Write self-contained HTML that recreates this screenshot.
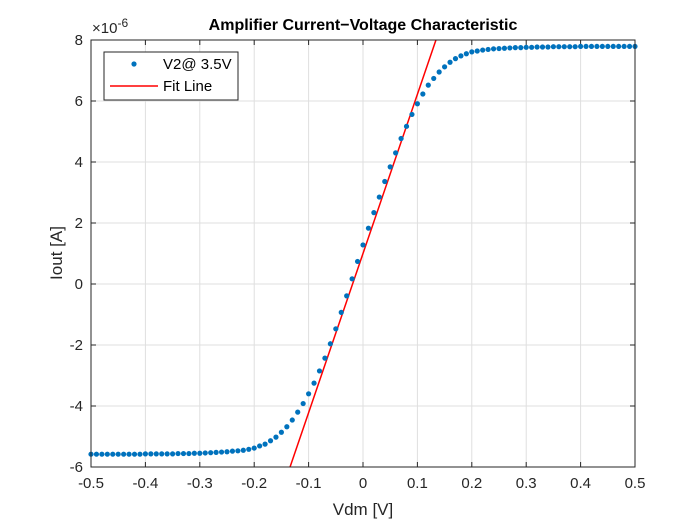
<!DOCTYPE html>
<html><head><meta charset="utf-8"><style>
html,body{margin:0;padding:0;background:#fff;width:700px;height:525px;overflow:hidden;position:relative;}
svg{display:block;font-family:"Liberation Sans",sans-serif;position:absolute;left:0;top:0;}
</style></head><body>
<svg id="chart" width="700" height="525" viewBox="0 0 700 525"></svg>
<script>
const xTicks=[-0.5,-0.4,-0.3,-0.2,-0.1,0,0.1,0.2,0.3,0.4,0.5];
const xTickLabels=["-0.5","-0.4","-0.3","-0.2","-0.1","0","0.1","0.2","0.3","0.4","0.5"];
const yTicks=[-6,-4,-2,0,2,4,6,8];
const yTickLabels=["-6","-4","-2","0","2","4","6","8"];
const vdm=[];for(let i=0;i<=100;i++)vdm.push(-0.5+i*0.01);
const iout=[
-5.58,-5.58,-5.58,-5.58,-5.58,-5.58,-5.58,-5.58,-5.58,-5.58,
-5.57,-5.57,-5.57,-5.57,-5.57,-5.57,-5.56,-5.56,-5.56,-5.55,
-5.55,-5.54,-5.53,-5.52,-5.51,-5.50,-5.48,-5.47,-5.45,-5.42,
-5.38,-5.31,-5.25,-5.14,-5.02,-4.86,-4.68,-4.46,-4.20,-3.92,
-3.60,-3.25,-2.85,-2.43,-1.96,-1.47,-0.93,-0.39,0.17,0.74,
1.28,1.83,2.34,2.85,3.36,3.84,4.30,4.77,5.17,5.56,
5.91,6.23,6.52,6.74,6.95,7.12,7.27,7.39,7.48,7.55,
7.61,7.64,7.67,7.69,7.71,7.72,7.73,7.74,7.75,7.75,
7.76,7.76,7.77,7.77,7.77,7.78,7.78,7.78,7.78,7.78,
7.79,7.79,7.79,7.79,7.79,7.79,7.79,7.79,7.79,7.79,7.79];
const fitSlope=[52.2];
const fitIntercept=[1.0];
const X0=91,X1=635,Y0=40,Y1=467,xmin=-0.5,xmax=0.5,ymin=-6,ymax=8;
const sx=v=>X0+(v-xmin)/(xmax-xmin)*(X1-X0);
const sy=v=>Y1-(v-ymin)/(ymax-ymin)*(Y1-Y0);
const svg=document.getElementById('chart');
const NS='http://www.w3.org/2000/svg';
function mk(t,a,p){const e=document.createElementNS(NS,t);for(const k in a)e.setAttribute(k,a[k]);(p||svg).appendChild(e);return e;}
mk('rect',{x:X0,y:Y0,width:X1-X0,height:Y1-Y0,fill:'#fff'});
xTicks.forEach((t,i)=>{const x=sx(t);
 const g=mk('line',{x1:x,x2:x,y1:Y0,y2:Y1,stroke:'#dfdfdf','stroke-width':1});
 
 mk('line',{x1:x,x2:x,y1:Y1,y2:Y1-5,stroke:'#262626'});mk('line',{x1:x,x2:x,y1:Y0,y2:Y0+5,stroke:'#262626'});
 const l=mk('text',{x:x,y:Y1+21,'text-anchor':'middle','font-size':15,fill:'#262626'});l.textContent=xTickLabels[i];
 });
yTicks.forEach((t,i)=>{const y=sy(t);
 const g=mk('line',{x1:X0,x2:X1,y1:y,y2:y,stroke:'#dfdfdf','stroke-width':1});
 
 mk('line',{x1:X0,x2:X0+5,y1:y,y2:y,stroke:'#262626'});mk('line',{x1:X1,x2:X1-5,y1:y,y2:y,stroke:'#262626'});
 const l=mk('text',{x:X0-8,y:y+5,'text-anchor':'end','font-size':15,fill:'#262626'});l.textContent=yTickLabels[i];
 });
mk('clipPath',{id:'cp'});mk('rect',{x:X0,y:Y0,width:X1-X0,height:Y1-Y0},svg.querySelector('#cp'));
const fx=[xmin,xmax];
const fit=mk('line',{x1:sx(fx[0]),y1:sy(fitIntercept[0]+fitSlope[0]*fx[0]),x2:sx(fx[1]),y2:sy(fitIntercept[0]+fitSlope[0]*fx[1]),stroke:'#ff0000','stroke-width':1.5,'clip-path':'url(#cp)'});

vdm.forEach((v,i)=>{const c=mk('circle',{cx:sx(v),cy:sy(iout[i]),r:2.6,fill:'#0072bd'});
 });
const box=mk('rect',{x:X0,y:Y0,width:X1-X0,height:Y1-Y0,fill:'none',stroke:'#262626','stroke-width':1});

</script>
<svg width="700" height="525">
<text x="363" y="30" text-anchor="middle" font-size="16" font-weight="bold" fill="#000" font-family="Liberation Sans,sans-serif">Amplifier Current−Voltage Characteristic</text>
<text x="92" y="33" font-size="15" fill="#262626" font-family="Liberation Sans,sans-serif">×10<tspan dy="-6" font-size="12">-6</tspan></text>
<text x="363" y="515" text-anchor="middle" font-size="17" fill="#262626" font-family="Liberation Sans,sans-serif">Vdm [V]</text>
<text transform="translate(62,253) rotate(-90)" text-anchor="middle" font-size="17" fill="#262626" font-family="Liberation Sans,sans-serif">Iout [A]</text>
<g>
<rect x="104" y="52" width="134" height="48" fill="#fff" stroke="#262626" stroke-width="1"/>
<circle cx="134" cy="64" r="2.6" fill="#0072bd"/>
<text x="163" y="69" font-size="15" fill="#000" font-family="Liberation Sans,sans-serif">V2@ 3.5V</text>
<line x1="110" x2="158" y1="86" y2="86" stroke="#ff0000" stroke-width="1.5"/>
<text x="163" y="91" font-size="15" fill="#000" font-family="Liberation Sans,sans-serif">Fit Line</text>
</g>
</svg>
</body></html>
